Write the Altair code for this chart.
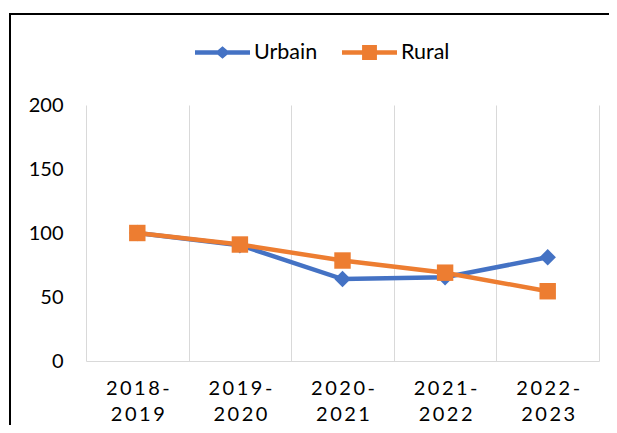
import altair as alt
import pandas as pd

periods = ["2018-2019", "2019-2020", "2020-2021", "2021-2022", "2022-2023"]
urbain = [100, 90.5, 64, 65.5, 81]
rural = [100, 91, 78.5, 69, 54.5]
series_names = ["Urbain", "Rural"]
series_colors = ["#4472C4", "#ED7D31"]
series_shapes = ["diamond", "square"]
legend_paths = [
    "M-1,-0.082H1V0.082H-1Z M-0.27,0L0,-0.23L0.27,0L0,0.23Z",
    "M-1,-0.082H1V0.082H-1Z M-0.27,-0.27H0.27V0.27H-0.27Z",
]
y_ticks = [0, 50, 100, 150, 200]

rows = []
for name, vals in zip(series_names, [urbain, rural]):
    for p, v in zip(periods, vals):
        rows.append({"period": p, "series": name, "value": v})
df = pd.DataFrame(rows)

W, H = 513, 256

# two-line labels with a little letter spacing (hair spaces)
label_expr = ("[join(split(substring(datum.label, 0, 5), ''), '\u200a\u200a'), "
              "join(split(substring(datum.label, 5), ''), '\u200a\u200a')]")

x = alt.X("period:N", sort=periods, title=None,
          scale=alt.Scale(paddingInner=0, paddingOuter=0),
          axis=alt.Axis(grid=True, gridColor="#d9d9d9", gridWidth=1, tickBand="extent",
                        ticks=False, tickSize=0, domain=True, domainColor="#d9d9d9",
                        domainWidth=1, labelAngle=0, labelFont="Lato", labelFontSize=20,
                        labelColor="black", labelLineHeight=26, labelPadding=17,
                        labelExpr=label_expr))
y = alt.Y("value:Q", title=None, scale=alt.Scale(domain=[0, 200]),
          axis=alt.Axis(values=y_ticks, grid=False, domain=False, ticks=False, tickSize=0,
                        labelFont="Lato", labelFontSize=20, labelColor="black",
                        labelPadding=23, labelFlush=False))

legend = alt.Legend(title=None, orient="none", legendX=109, legendY=-80,
                    direction="horizontal", symbolSize=3025, symbolStrokeWidth=0,
                    symbolOpacity=1, labelFont="Lato", labelFontSize=21.5,
                    labelColor="black", labelOffset=4, columnPadding=24, padding=0)


def series_layer(name, shape, col):
    return alt.Chart(df).transform_filter(alt.datum.series == name).mark_line(
        strokeWidth=4.5, color=col,
        point=alt.OverlayMarkDef(shape=shape, size=270, filled=True, opacity=1, color=col),
    ).encode(x=x, y=y)


legend_layer = alt.Chart(df).transform_filter("false").mark_point(
    filled=True, opacity=1, strokeWidth=0, size=3025
).encode(
    x=x, y=y,
    color=alt.Color("series:N", scale=alt.Scale(domain=series_names, range=series_colors),
                    legend=legend),
    shape=alt.Shape("series:N", scale=alt.Scale(domain=series_names, range=legend_paths),
                    legend=legend),
)

frame = alt.Chart(alt.Data(values=[{}])).mark_rect(
    fillOpacity=0, stroke="black", strokeWidth=2
).encode(x=alt.value(-76), x2=alt.value(W + 100), y=alt.value(-91), y2=alt.value(H + 150))

layers = ([frame]
          + [series_layer(n, s, c) for n, s, c in zip(series_names, series_shapes, series_colors)]
          + [legend_layer])

chart = alt.layer(*layers).properties(
    width=W, height=H,
    autosize=alt.AutoSizeParams(type="none"),
    padding={"left": 78, "top": 97, "right": 10, "bottom": 64},
    background="white",
).configure_view(stroke=None)

chart.save("out.html", embed_options={"renderer": "svg", "actions": False})
